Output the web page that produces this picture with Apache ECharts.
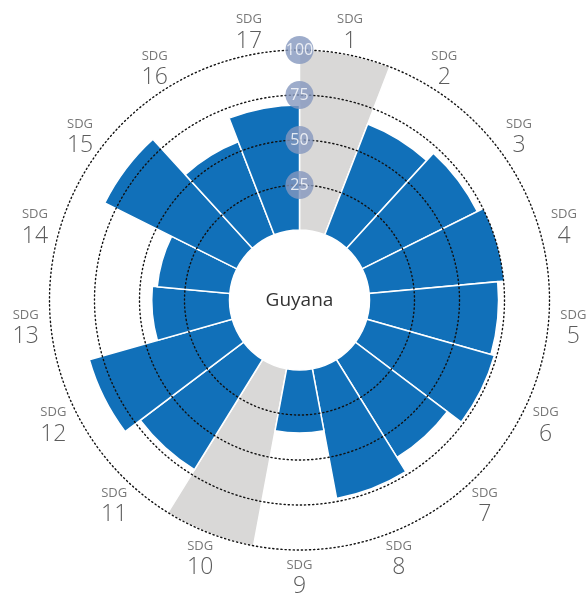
<!DOCTYPE html>
<html>
<head>
<meta charset="utf-8">
<script src="https://cdn.jsdelivr.net/npm/echarts@6/dist/echarts.min.js"></script>
<style>
html,body{margin:0;padding:0;background:#fff;}
#chart{width:586px;height:594px;}
</style>
</head>
<body>
<div id="chart"></div>
<script>
// SDG goal numbers (categories)
const goals = ['1','2','3','4','5','6','7','8','9','10','11','12','13','14','15','16','17'];
// Scores (null = no data)
const scores = [null, 66, 71.5, 75.5, 71.7, 73.7, 64, 73.3, 35, null, 72, 82.5, 43.2, 40.5, 82, 55.4, 69.5];
// Goals with insufficient data drawn as full grey sectors
const noData = [100, null, null, null, null, null, null, null, null, 100, null, null, null, null, null, null, null];
// Radial tick labels
const ringTicks = [25, 50, 75, 100];

const CX = 299.5, CY = 300;
const chart = echarts.init(document.getElementById('chart'), null, {renderer: 'canvas'});

chart.setOption({
  animation: false,
  backgroundColor: '#ffffff',
  polar: [
    {center: [CX, CY], radius: [70, 250]},
    {center: [CX, CY + 2.5], radius: [0, 275]},
    {center: [CX, CY], radius: [70, 250]}
  ],
  angleAxis: [
    {
      polarIndex: 0, type: 'category', data: goals, startAngle: 90, clockwise: true,
      boundaryGap: true,
      axisLine: {show: false}, axisTick: {show: false}, axisLabel: {show: false},
      splitLine: {show: false}
    },
    {polarIndex: 1, type: 'category', data: goals, startAngle: 90, clockwise: true, boundaryGap: true, show: false},
    {polarIndex: 2, type: 'value', min: 0, max: 360, startAngle: 90, clockwise: true, show: false}
  ],
  radiusAxis: [
    {
      polarIndex: 0, type: 'value', min: 0, max: 100, interval: 25, z: 5,
      axisLine: {show: false}, axisTick: {show: false}, axisLabel: {show: false},
      splitLine: {
        show: true,
        lineStyle: {
          color: ['rgba(0,0,0,0)', '#111111', '#111111', '#111111', '#111111'],
          width: 1.4, type: [1.2, 2.9], cap: 'round'
        }
      }
    },
    {polarIndex: 1, type: 'value', min: 0, max: 1, show: false},
    {polarIndex: 2, type: 'value', min: 0, max: 100, show: false}
  ],
  series: [
    {
      type: 'bar', coordinateSystem: 'polar', polarIndex: 0, name: 'No data',
      data: noData, barCategoryGap: '0%', barGap: '-100%', z: 2,
      itemStyle: {color: '#d9d8d7', borderColor: '#ffffff', borderWidth: 1.5}
    },
    {
      type: 'bar', coordinateSystem: 'polar', polarIndex: 0, name: 'Score',
      data: scores, barCategoryGap: '0%', barGap: '-100%', z: 2,
      itemStyle: {color: '#1170b9', borderColor: '#ffffff', borderWidth: 1.5}
    },
    {
      type: 'scatter', coordinateSystem: 'polar', polarIndex: 1, z: 6,
      symbolSize: 1, itemStyle: {color: 'rgba(0,0,0,0)'},
      data: goals.map((g, i) => [1, i]),
      label: {
        show: true, position: 'inside', align: 'center', verticalAlign: 'middle',
        formatter: p => '{s|SDG}\n{n|' + goals[p.value[1]] + '}',
        rich: {
          s: {fontSize: 13, color: '#555555', fontFamily: 'Open Sans', lineHeight: 18, align: 'center'},
          n: {fontSize: 23, color: '#333333', fontFamily: 'Open Sans', fontWeight: 300, lineHeight: 25, align: 'center'}
        }
      }
    },
    {
      type: 'scatter', coordinateSystem: 'polar', polarIndex: 2, z: 10,
      symbol: 'circle', symbolSize: 28, itemStyle: {color: '#8497be'},
      data: ringTicks.map(v => [v, 0]),
      label: {
        show: true, position: 'inside', color: '#ffffff', fontSize: 16,
        fontFamily: 'Open Sans', formatter: p => String(p.value[0])
      }
    }
  ],
  graphic: [
    {
      type: 'text', x: CX, y: CY + 1, z: 20,
      style: {
        text: 'Guyana', fill: '#333333', fontSize: 19, fontFamily: 'Open Sans',
        textAlign: 'center', textVerticalAlign: 'middle'
      }
    }
  ]
});
</script>
</body>
</html>
